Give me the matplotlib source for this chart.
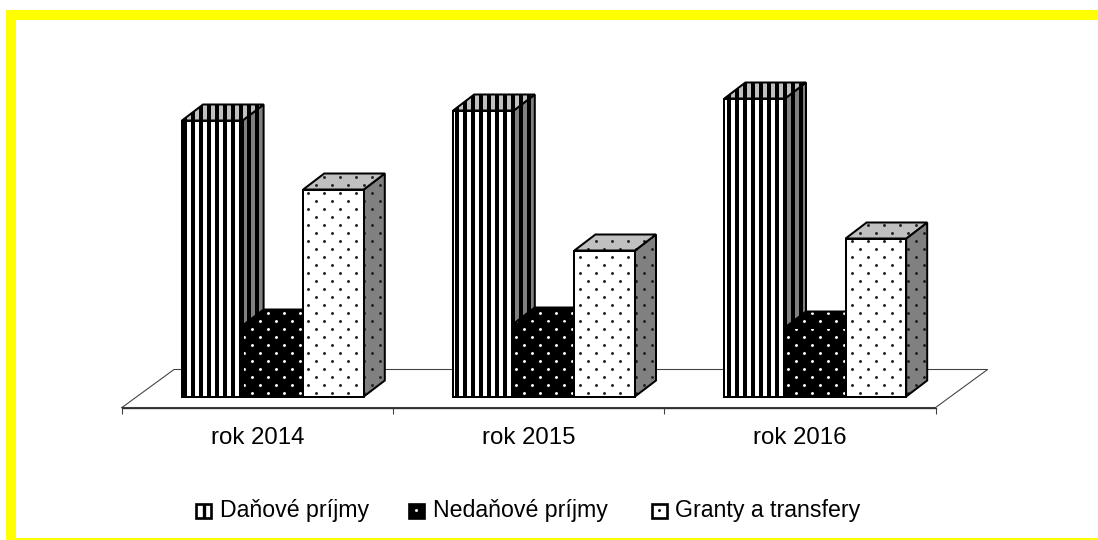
import matplotlib
matplotlib.use('Agg')
import matplotlib.pyplot as plt
from matplotlib.patches import Polygon, Rectangle
import numpy as np

# chart has no value axis, heights are read off the picture
categories = ['rok 2014', 'rok 2015', 'rok 2016']
series_names = ['Daňové príjmy', 'Nedaňové príjmy', 'Granty a transfery']
danove = [276, 286, 298]
nedanove = [71, 73, 69]
granty = [207, 146, 158]

W, H, DPI = 1098, 540, 96
CAT_PX = 271.2    # width of one category in pixels
X0_PX = 122       # left front corner of the floor
Y0_PX = 396.5     # where the bars stand

plt.rcParams['font.family'] = ['Liberation Sans', 'DejaVu Sans']

fig = plt.figure(figsize=(W / DPI, H / DPI), dpi=DPI)
ax = fig.add_axes([0, 0, 1, 1])
ax.set_xlim(-X0_PX / CAT_PX, (W - X0_PX) / CAT_PX)
ax.set_ylim(Y0_PX - H, Y0_PX)
ax.axis('off')

def px_x(p):
    return (p - X0_PX) / CAT_PX

def px_y(p):
    return Y0_PX - p

def px_rect(l, t, r, b, **kw):
    ax.add_patch(Rectangle((px_x(l), px_y(b)), (r - l) / CAT_PX, b - t, **kw))

# yellow frame
for l, t, r, b in [(6, 10, 16, 540), (6, 10, W, 20), (6, 538, W, 540)]:
    px_rect(l, t, r, b, fc='#ffff00', ec='none', zorder=1)

# floor
floor_dx, floor_dy = 52 / CAT_PX, 38
n = len(categories)
fl_y = px_y(407.5)
ax.plot([0, floor_dx, n + floor_dx, n, 0], [fl_y, fl_y + floor_dy, fl_y + floor_dy, fl_y, fl_y],
        color='#404040', lw=0.8, zorder=2)
ax.plot([0, n], [fl_y, fl_y], color='#303030', lw=1.0, zorder=2)
ax.vlines(range(n + 1), fl_y - 6, fl_y, color='#404040', lw=0.8, zorder=2)

bar_w = 60.6 / CAT_PX
offset = 60 / CAT_PX
dep_x, dep_y = 21 / CAT_PX, 16

def dots(poly, color, z):
    # staggered dots on a fixed pixel lattice, clipped to the face
    xs, ys = [], []
    for r in range(0, H // 8):
        for c in range(0, W // 16 + 1):
            xs.append(px_x(4 + 16 * c + (8 if r % 2 else 0)))
            ys.append(px_y(1 + 8 * r))
    line, = ax.plot(xs, ys, ls='none', marker='o', ms=2.2, mew=0, color=color, zorder=z)
    line.set_clip_path(poly)

def stripes(poly, z):
    xs = [px_x(8 * k + 1) for k in range(W // 8 + 1)]
    lines = ax.vlines(xs, px_y(H), px_y(0), color='black', lw=3, zorder=z)
    lines.set_clip_path(poly)

def face(pts, fc, striped, dot_color, z):
    poly = Polygon(pts, closed=True, fc=fc, ec='none', zorder=z)
    ax.add_patch(poly)
    if striped:
        stripes(poly, z)
    if dot_color:
        dots(poly, dot_color, z)
    ax.add_patch(Polygon(pts, closed=True, fill=False, ec='black', lw=1.5, zorder=z))

styles = [
    ('white', '#c0c0c0', '#808080', True, None),
    ('black', 'black', 'black', False, 'white'),
    ('white', '#c0c0c0', '#808080', False, '#222222'),
]

z = 3
for i in range(n):
    for s, vals in enumerate([danove, nedanove, granty]):
        front, top, side, striped, dot_color = styles[s]
        x = i + offset + s * bar_w
        h = vals[i]
        face([(x + bar_w, 0), (x + bar_w + dep_x, dep_y), (x + bar_w + dep_x, h + dep_y), (x + bar_w, h)],
             side, striped, dot_color, z)
        face([(x, h), (x + dep_x, h + dep_y), (x + bar_w + dep_x, h + dep_y), (x + bar_w, h)],
             top, striped, dot_color, z)
        face([(x, 0), (x + bar_w, 0), (x + bar_w, h), (x, h)], front, striped, dot_color, z)
        z += 1

for i, c in enumerate(categories):
    ax.text(i + 0.5, px_y(444), c, ha='center', va='baseline', fontsize=18, color='black', zorder=50)

# legend drawn by hand, the three columns are unevenly spaced in the original
leg_text_x = [220, 433, 675]
leg_box_x = [196, 409, 652]
for name, tx, bx, s in zip(series_names, leg_text_x, leg_box_x, range(3)):
    ax.text(px_x(tx), px_y(517), name, ha='left', va='baseline', fontsize=17.3, color='black', zorder=50)
    fc = 'black' if s == 1 else 'white'
    px_rect(bx, 503.5, bx + 15, 517.5, fc=fc, ec='black', lw=2, zorder=50)
    if s == 0:
        ax.vlines([px_x(bx + 7.5)], px_y(517.5), px_y(503.5), color='black', lw=2.5, zorder=51)
    else:
        ax.plot([px_x(bx + 7)], [px_y(510)], ls='none', marker='o', ms=2.2, mew=0,
                color='white' if s == 1 else 'black', zorder=51)

plt.savefig('out.png', dpi=DPI)
